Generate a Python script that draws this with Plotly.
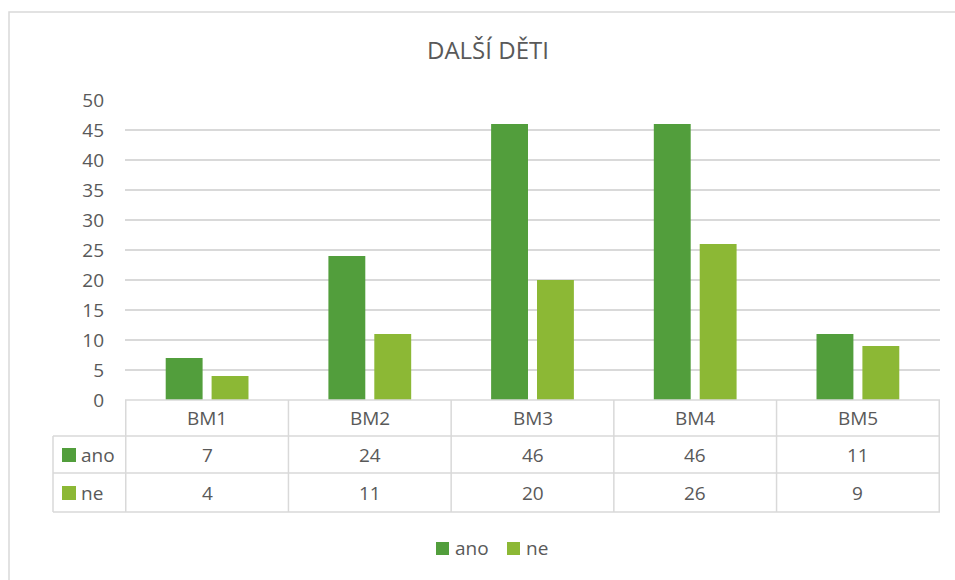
import plotly.graph_objects as go

categories = ["BM1", "BM2", "BM3", "BM4", "BM5"]
ano = [7, 24, 46, 46, 11]
ne = [4, 11, 20, 26, 9]
series_names = ["ano", "ne"]
colors = ["#529E3C", "#8CB835"]
title_text = "DALŠÍ DĚTI"

W, H = 955, 580
L, R, T, B = 125, 15, 100, 180
PW = W - L - R
PH = H - T - B

def px(x):
    return (x - L) / PW

def py(y):
    return (H - B - y) / PH

GRID = "#D9D9D9"
TXT = "#595959"
FONT = "Open Sans, Liberation Sans, sans-serif"
FS = 19

fig = go.Figure()
for name, vals, col in zip(series_names, [ano, ne], colors):
    fig.add_trace(go.Bar(x=categories, y=vals, name=name, marker_color=col,
                         marker_line_width=0, hoverinfo="skip", showlegend=False))

shapes = []
annotations = []

# outer chart border
shapes.append(dict(type="rect", xref="paper", yref="paper",
                   x0=px(9), x1=px(1000), y0=py(620), y1=py(12),
                   line=dict(color=GRID, width=1.5), layer="below"))

# table lines
row_y = [400, 436, 473, 512]
for i, yy in enumerate(row_y):
    x0 = 125 if i == 0 else 53
    shapes.append(dict(type="line", xref="paper", yref="paper",
                       x0=px(x0), x1=px(940), y0=py(yy), y1=py(yy),
                       line=dict(color=GRID, width=1.5)))
shapes.append(dict(type="line", xref="paper", yref="paper",
                   x0=px(53), x1=px(53), y0=py(436), y1=py(512),
                   line=dict(color=GRID, width=1.5)))
for k in range(len(categories) + 1):
    shapes.append(dict(type="line", xref="x", yref="paper",
                       x0=k - 0.5, x1=k - 0.5, y0=py(400), y1=py(512),
                       line=dict(color=GRID, width=1.5)))

def txt(x, y, s, xref="paper", xanchor="center"):
    annotations.append(dict(x=x, y=y, xref=xref, yref="paper", text=s,
                            showarrow=False, xanchor=xanchor, yanchor="middle",
                            font=dict(size=FS, color=TXT, family=FONT)))

# header row: categories
for c in categories:
    txt(c, py(418), c, xref="x")

# data rows
row_centers = [455, 493]
for name, vals, col, yc in zip(series_names, [ano, ne], colors, row_centers):
    shapes.append(dict(type="rect", xref="paper", yref="paper",
                       x0=px(62), x1=px(76), y0=py(yc + 7), y1=py(yc - 7),
                       fillcolor=col, line=dict(width=0)))
    txt(px(79), py(yc), name, xanchor="left")
    for c, v in zip(categories, vals):
        txt(c, py(yc), str(v), xref="x")

# legend (manual)
leg_x = [436, 507]
for name, col, lx in zip(series_names, colors, leg_x):
    shapes.append(dict(type="rect", xref="paper", yref="paper",
                       x0=px(lx), x1=px(lx + 13), y0=py(555), y1=py(542),
                       fillcolor=col, line=dict(width=0)))
    txt(px(lx + 17), py(548), name, xanchor="left")

# title
annotations.append(dict(x=px(488), y=py(50), xref="paper", yref="paper",
                        text=title_text, showarrow=False, yanchor="middle",
                        font=dict(size=24, color=TXT, family=FONT)))

fig.update_layout(
    width=W, height=H,
    margin=dict(l=L, r=R, t=T, b=B),
    paper_bgcolor="white", plot_bgcolor="white",
    barmode="group", bargap=0.436, bargroupgap=0.196,
    showlegend=False,
    shapes=shapes, annotations=annotations,
    font=dict(family=FONT, color=TXT),
)
fig.update_xaxes(showticklabels=False, showgrid=False, zeroline=False,
                 showline=False, ticks="")
fig.update_yaxes(range=[0, 50], dtick=5, showgrid=True, gridcolor=GRID,
                 gridwidth=1.5, zeroline=False, showline=False, ticks="",
                 ticklabelstandoff=20,
                 tickfont=dict(size=FS, color=TXT, family=FONT))

fig.write_html("out.html",
               config={"displayModeBar": False},
               post_script="document.body.style.margin='0';document.body.style.overflow='hidden';")
